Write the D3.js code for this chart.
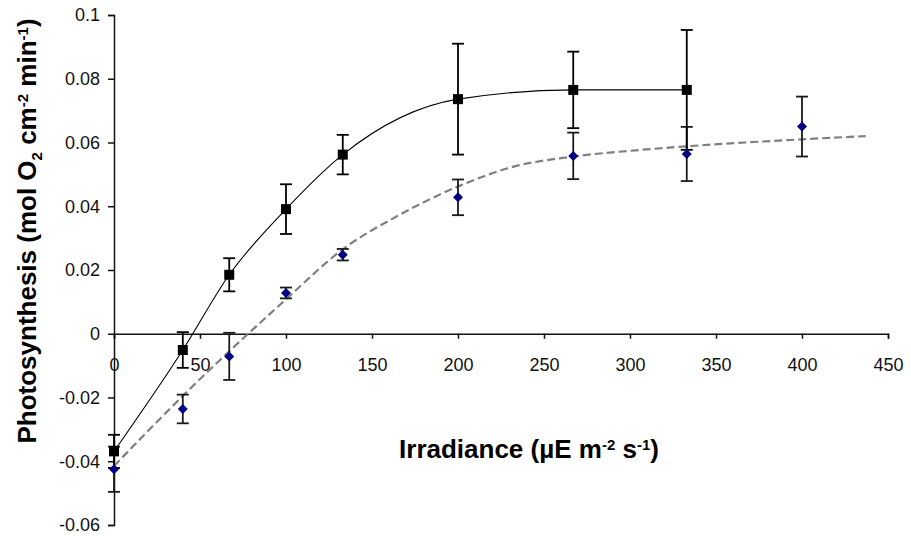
<!DOCTYPE html>
<html>
<head>
<meta charset="utf-8">
<script src="https://cdn.jsdelivr.net/npm/d3@7"></script>
<style>
  html, body { margin: 0; padding: 0; background: #fff; }
  svg { display: block; }
  .tick text { font-family: "Liberation Sans", Arial, sans-serif; font-size: 18px; fill: #111; }
  .axis path, .axis line { stroke: #111; stroke-width: 1.5px; }
  .lbl { font-family: "Liberation Sans", Arial, sans-serif; font-weight: bold; font-size: 26px; fill: #000; }
</style>
</head>
<body>
<svg id="chart" width="911" height="536"></svg>
<script>
// ---- data ----
const xTicks = [0, 50, 100, 150, 200, 250, 300, 350, 400, 450];
const yTicks = [-0.06, -0.04, -0.02, 0, 0.02, 0.04, 0.06, 0.08, 0.1];

// series 1: black squares, solid smoothed line
const blackX   = [0, 40, 67, 100, 133, 200, 267, 333];
const blackY   = [-0.0369, -0.0051, 0.0185, 0.0391, 0.0562, 0.0736, 0.0765, 0.0765];
const blackErr = [0.0052, 0.0056, 0.0052, 0.0078, 0.0062, 0.0174, 0.0120, 0.0188];

// series 2: navy diamonds with fitted dashed curve
const blueX   = [0, 40, 67, 100, 133, 200, 267, 333, 400];
const blueY   = [-0.0425, -0.0236, -0.0071, 0.0128, 0.0248, 0.0428, 0.0558, 0.0564, 0.0650];
const blueErr = [0.0071, 0.0045, 0.0074, 0.0017, 0.0018, 0.0056, 0.0073, 0.0085, 0.0094];

// fitted dashed curve
const fitX = [0, 40, 67, 78, 100, 133, 165, 200, 233, 267, 300, 333, 367, 400, 437];
const fitY = [-0.0415, -0.0195, -0.0055, 0.0, 0.0108, 0.0265, 0.0370, 0.0462, 0.0525, 0.0556, 0.0574, 0.0588, 0.0600, 0.0610, 0.0620];

// ---- layout ----
const svg = d3.select("#chart");
const x = d3.scaleLinear().domain([0, 450]).range([114, 888]);
const y = d3.scaleLinear().domain([-0.06, 0.1]).range([525, 15]);

// axes
const yAxis = d3.axisLeft(y).tickValues(yTicks).tickSize(6).tickSizeOuter(6).tickPadding(8)
  .tickFormat(d => String(+d.toFixed(2)));
svg.append("g").attr("class", "axis").attr("transform", `translate(${x(0)},0)`).call(yAxis);

const xAxis = d3.axisBottom(x).tickValues(xTicks).tickSize(5).tickSizeOuter(5).tickPadding(19)
  .tickFormat(d => String(d));
svg.append("g").attr("class", "axis").attr("transform", `translate(0,${y(0)})`).call(xAxis);

// dashed fitted curve
const fitData = fitX.map((v, i) => [v, fitY[i]]);
svg.append("path").datum(fitData)
  .attr("fill", "none").attr("stroke", "#7f7f7f").attr("stroke-width", 2.2)
  .attr("stroke-dasharray", "8,4")
  .attr("d", d3.line().x(d => x(d[0])).y(d => y(d[1])).curve(d3.curveMonotoneX));

// black smoothed line
const blackData = blackX.map((v, i) => [v, blackY[i], blackErr[i]]);
const blueData = blueX.map((v, i) => [v, blueY[i], blueErr[i]]);
svg.append("path").datum(blackData)
  .attr("fill", "none").attr("stroke", "#000").attr("stroke-width", 1.1)
  .attr("d", d3.line().x(d => x(d[0])).y(d => y(d[1])).curve(d3.curveMonotoneX));

// error bars
function errorBars(data, color) {
  const g = svg.append("g").attr("stroke", color).attr("stroke-width", 1.8);
  g.selectAll("line.v").data(data).join("line")
    .attr("x1", d => x(d[0])).attr("x2", d => x(d[0]))
    .attr("y1", d => y(d[1] + d[2])).attr("y2", d => y(d[1] - d[2]));
  g.selectAll("line.t").data(data).join("line")
    .attr("x1", d => x(d[0]) - 6).attr("x2", d => x(d[0]) + 6)
    .attr("y1", d => y(d[1] + d[2])).attr("y2", d => y(d[1] + d[2]));
  g.selectAll("line.b").data(data).join("line")
    .attr("x1", d => x(d[0]) - 6).attr("x2", d => x(d[0]) + 6)
    .attr("y1", d => y(d[1] - d[2])).attr("y2", d => y(d[1] - d[2]));
}
errorBars(blueData, "#1a1a1a");
errorBars(blackData, "#000");

// markers
svg.append("g").selectAll("path").data(blueData).join("path")
  .attr("transform", d => `translate(${x(d[0])},${y(d[1])})`)
  .attr("d", "M0,-5L5,0L0,5L-5,0Z")
  .attr("fill", "#000080");
svg.append("g").selectAll("rect").data(blackData).join("rect")
  .attr("x", d => x(d[0]) - 5).attr("y", d => y(d[1]) - 5)
  .attr("width", 10).attr("height", 10).attr("fill", "#000");

// axis titles
const xt = svg.append("text").attr("class", "lbl").attr("x", 529).attr("y", 458).attr("text-anchor", "middle");
xt.append("tspan").text("Irradiance (µE m");
xt.append("tspan").attr("dy", -8).attr("font-size", 15).text("-2");
xt.append("tspan").attr("dy", 8).text(" s");
xt.append("tspan").attr("dy", -8).attr("font-size", 15).text("-1");
xt.append("tspan").attr("dy", 8).text(")");

const yt = svg.append("text").attr("class", "lbl")
  .attr("transform", "translate(36,231) rotate(-90)").attr("text-anchor", "middle");
yt.append("tspan").text("Photosynthesis (mol O");
yt.append("tspan").attr("dy", 6).attr("font-size", 15).text("2");
yt.append("tspan").attr("dy", -6).text(" cm");
yt.append("tspan").attr("dy", -8).attr("font-size", 15).text("-2");
yt.append("tspan").attr("dy", 8).text(" min");
yt.append("tspan").attr("dy", -8).attr("font-size", 15).text("-1");
yt.append("tspan").attr("dy", 8).text(")");
</script>
</body>
</html>
